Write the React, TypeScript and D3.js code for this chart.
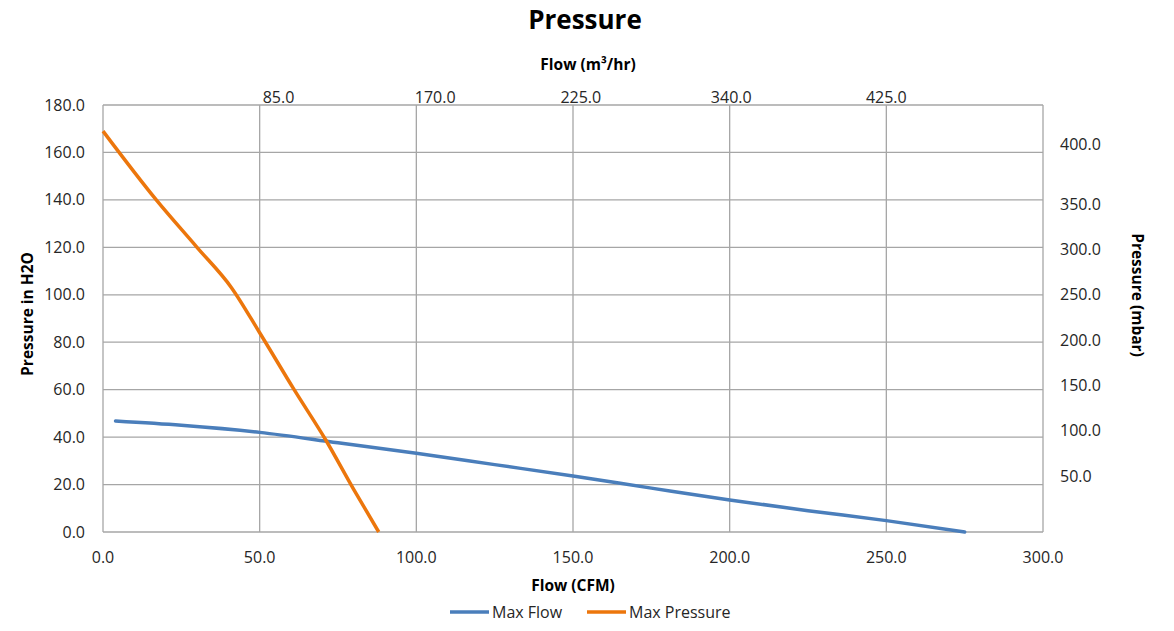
import { useEffect, useRef } from 'react';
import * as d3 from 'd3';

// Max Flow curve: [flow CFM, pressure inH2O]
const maxFlowCfm = [4, 25, 50, 75, 100, 125, 150, 175, 200, 225, 250, 275];
const maxFlowPressure = [46.8, 45, 42, 37.6, 33.2, 28.4, 23.6, 18.5, 13.5, 9, 4.8, 0];

// Max Pressure curve
const maxPressCfm = [0, 17, 30, 41, 50, 61, 71, 80, 88];
const maxPressPressure = [169, 140, 120, 103, 84, 60, 39, 18, 0];

const xTicks = [0, 50, 100, 150, 200, 250, 300];
const yTicks = [0, 20, 40, 60, 80, 100, 120, 140, 160, 180];

// top axis (m3/hr) labels and the CFM position they sit at
const topTickLabels = ['85.0', '170.0', '225.0', '340.0', '425.0'];
const topTickCfm = [56, 106, 152.5, 200.5, 250];

// right axis (mbar) labels and the inH2O level they sit at
const rightTickLabels = [50, 100, 150, 200, 250, 300, 350, 400];
const rightTickLevel = [23.6, 42.7, 61.8, 80.9, 100, 119.2, 138.3, 163.2];

const FONT = "'Open Sans', 'Liberation Sans', sans-serif";

export default function App() {
  const svgRef = useRef<SVGSVGElement>(null);

  useEffect(() => {
    const svg = d3.select(svgRef.current);
    svg.selectAll('*').remove();

    const W = 1174, H = 631;
    const left = 103, right = 1043, top = 105, bottom = 532;
    svg.attr('width', W).attr('height', H).attr('viewBox', `0 0 ${W} ${H}`);

    svg.append('rect').attr('width', W).attr('height', H).attr('fill', '#fff');

    const x = d3.scaleLinear().domain([0, 300]).range([left, right]);
    const y = d3.scaleLinear().domain([0, 180]).range([bottom, top]);

    const grid = svg.append('g').attr('stroke', '#a6a6a6').attr('stroke-width', 1.3);
    xTicks.forEach(v => {
      grid.append('line').attr('x1', x(v)).attr('x2', x(v)).attr('y1', top).attr('y2', bottom);
    });
    yTicks.forEach(v => {
      grid.append('line').attr('x1', left).attr('x2', right).attr('y1', y(v)).attr('y2', y(v));
    });

    // lines
    const line = d3.line<[number, number]>()
      .x(d => x(d[0]))
      .y(d => y(d[1]))
      .curve(d3.curveMonotoneX);

    const flowPts = maxFlowCfm.map((c, i) => [c, maxFlowPressure[i]] as [number, number]);
    const pressPts = maxPressCfm.map((c, i) => [c, maxPressPressure[i]] as [number, number]);

    svg.append('path').datum(flowPts).attr('d', line)
      .attr('fill', 'none').attr('stroke', '#4a7ebb').attr('stroke-width', 3.5)
      .attr('stroke-linecap', 'round');
    svg.append('path').datum(pressPts).attr('d', line)
      .attr('fill', 'none').attr('stroke', '#ec760c').attr('stroke-width', 3.5);

    const txt = svg.append('g').attr('font-family', FONT).attr('fill', '#262626');

    // left ticks
    yTicks.forEach(v => {
      txt.append('text').attr('x', 85).attr('y', y(v)).attr('dy', '0.35em')
        .attr('text-anchor', 'end').attr('font-size', 16).text(v.toFixed(1));
    });
    // bottom ticks
    xTicks.forEach(v => {
      txt.append('text').attr('x', x(v)).attr('y', 557).attr('dy', '0.35em')
        .attr('text-anchor', 'middle').attr('font-size', 16).text(v.toFixed(1));
    });
    // top ticks
    topTickLabels.forEach((l, i) => {
      txt.append('text').attr('x', x(topTickCfm[i])).attr('y', 97).attr('dy', '0.35em')
        .attr('text-anchor', 'middle').attr('font-size', 16).text(l);
    });
    // right ticks
    rightTickLabels.forEach((v, i) => {
      txt.append('text').attr('x', 1060).attr('y', y(rightTickLevel[i])).attr('dy', '0.35em')
        .attr('text-anchor', 'start').attr('font-size', 16).text(v.toFixed(1));
    });

    // titles
    txt.append('text').attr('x', 585).attr('y', 28.5)
      .attr('text-anchor', 'middle').attr('font-size', 26).attr('font-weight', 700)
      .attr('fill', '#000').text('Pressure');
    txt.append('text').attr('x', 588).attr('y', 65).attr('dy', '0.35em')
      .attr('text-anchor', 'middle').attr('font-size', 15.5).attr('font-weight', 700)
      .attr('fill', '#000').text('Flow (m³/hr)');
    txt.append('text').attr('x', 573).attr('y', 586).attr('dy', '0.35em')
      .attr('text-anchor', 'middle').attr('font-size', 15.5).attr('font-weight', 700)
      .attr('fill', '#000').text('Flow (CFM)');
    txt.append('text').attr('transform', 'translate(28,314) rotate(-90)').attr('dy', '0.35em')
      .attr('text-anchor', 'middle').attr('font-size', 15.5).attr('font-weight', 700)
      .attr('fill', '#000').text('Pressure in H2O');
    txt.append('text').attr('transform', 'translate(1137,295) rotate(90)').attr('dy', '0.35em')
      .attr('text-anchor', 'middle').attr('font-size', 15.5).attr('font-weight', 700)
      .attr('fill', '#000').text('Pressure (mbar)');

    // legend
    const legend = [
      { label: 'Max Flow', color: '#4a7ebb', x0: 450 },
      { label: 'Max Pressure', color: '#ec760c', x0: 587 },
    ];
    legend.forEach(l => {
      svg.append('line').attr('x1', l.x0).attr('x2', l.x0 + 39).attr('y1', 612).attr('y2', 612)
        .attr('stroke', l.color).attr('stroke-width', 3.5);
      txt.append('text').attr('x', l.x0 + 42).attr('y', 612).attr('dy', '0.35em')
        .attr('font-size', 16).text(l.label);
    });
  }, []);

  return (
    <svg
      ref={svgRef}
      style={{ position: 'absolute', left: 0, top: 0, display: 'block' }}
    />
  );
}
